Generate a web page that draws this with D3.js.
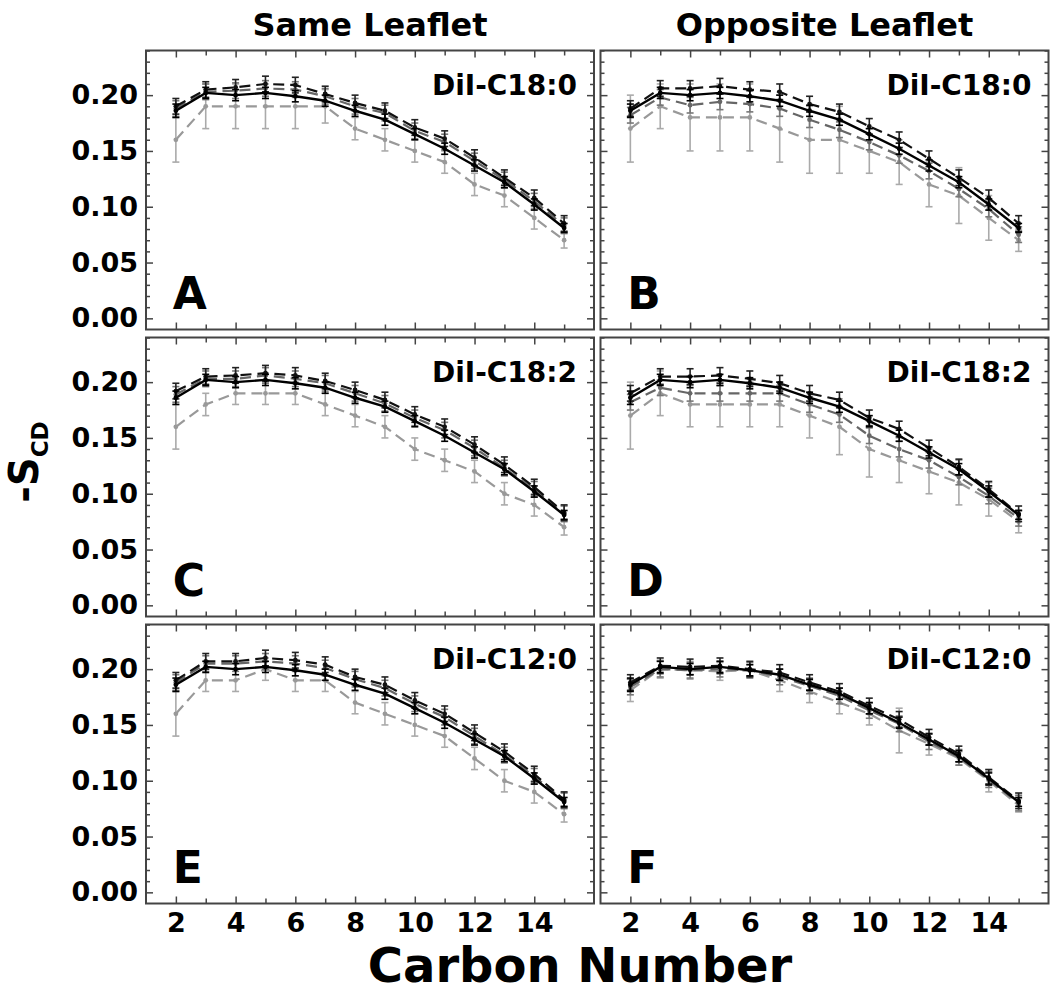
<!DOCTYPE html>
<html>
<head>
<meta charset="utf-8">
<script src="https://cdn.jsdelivr.net/npm/d3@7"></script>
<style>
  body { margin: 0; background: #fff; }
  svg text { font-family: "DejaVu Sans", sans-serif; font-weight: bold; fill: #000; }
</style>
</head>
<body>
<script>
// carbon positions along the acyl chain
var carbons = [2, 3, 4, 5, 6, 7, 8, 9, 10, 11, 12, 13, 14, 15];

// reference order parameter (solid black line, same in every panel)
var refS   = [0.186, 0.202, 0.200, 0.202, 0.199, 0.195, 0.186, 0.178, 0.165, 0.152, 0.137, 0.122, 0.102, 0.081];
var refErr = [0.006, 0.005, 0.005, 0.005, 0.005, 0.005, 0.005, 0.005, 0.005, 0.005, 0.005, 0.005, 0.005, 0.004];

// panel A  (same leaflet, DiI-C18:0)
var aDark  = [0.190, 0.205, 0.207, 0.210, 0.209, 0.201, 0.193, 0.186, 0.171, 0.161, 0.144, 0.126, 0.108, 0.085];
var aMid   = [0.188, 0.203, 0.204, 0.206, 0.205, 0.199, 0.190, 0.184, 0.168, 0.158, 0.141, 0.124, 0.105, 0.083];
var aLight = [0.16, 0.19, 0.19, 0.19, 0.19, 0.19, 0.17, 0.16, 0.15, 0.14, 0.12, 0.11, 0.09, 0.07];
var aLightErr = [0.02, 0.02, 0.02, 0.02, 0.02, 0.015, 0.01, 0.01, 0.01, 0.01, 0.01, 0.01, 0.01, 0.007];

// panel B  (opposite leaflet, DiI-C18:0)
var bDark  = [0.188, 0.206, 0.206, 0.208, 0.205, 0.203, 0.192, 0.185, 0.172, 0.160, 0.143, 0.126, 0.108, 0.085];
var bMid   = [0.182, 0.198, 0.191, 0.194, 0.192, 0.188, 0.178, 0.169, 0.158, 0.146, 0.132, 0.116, 0.098, 0.075];
var bLight = [0.17, 0.19, 0.18, 0.18, 0.18, 0.17, 0.16, 0.16, 0.15, 0.14, 0.12, 0.11, 0.09, 0.07];
var bLightErr = [0.03, 0.02, 0.03, 0.03, 0.03, 0.03, 0.03, 0.03, 0.02, 0.02, 0.02, 0.025, 0.02, 0.01];

// panel C  (same leaflet, DiI-C18:2)
var cDark  = [0.192, 0.205, 0.206, 0.208, 0.206, 0.201, 0.193, 0.184, 0.171, 0.160, 0.144, 0.126, 0.106, 0.083];
var cMid   = [0.189, 0.203, 0.203, 0.206, 0.203, 0.199, 0.190, 0.181, 0.168, 0.157, 0.141, 0.123, 0.104, 0.082];
var cLight = [0.16, 0.18, 0.19, 0.19, 0.19, 0.18, 0.17, 0.16, 0.14, 0.13, 0.12, 0.10, 0.09, 0.07];
var cLightErr = [0.02, 0.01, 0.01, 0.01, 0.01, 0.01, 0.01, 0.01, 0.01, 0.01, 0.01, 0.01, 0.01, 0.007];

// panel D  (opposite leaflet, DiI-C18:2)
var dDark  = [0.190, 0.205, 0.205, 0.206, 0.203, 0.199, 0.190, 0.184, 0.168, 0.158, 0.141, 0.124, 0.104, 0.082];
var dMid   = [0.182, 0.195, 0.190, 0.190, 0.190, 0.190, 0.180, 0.171, 0.152, 0.140, 0.130, 0.115, 0.098, 0.078];
var dLight = [0.17, 0.19, 0.18, 0.18, 0.18, 0.18, 0.17, 0.16, 0.14, 0.13, 0.12, 0.11, 0.095, 0.075];
var dLightErr = [0.03, 0.02, 0.02, 0.02, 0.02, 0.02, 0.02, 0.025, 0.025, 0.02, 0.02, 0.02, 0.015, 0.01];

// panel E  (same leaflet, DiI-C12:0)
var eDark  = [0.190, 0.207, 0.207, 0.210, 0.208, 0.204, 0.193, 0.186, 0.172, 0.160, 0.143, 0.126, 0.106, 0.083];
var eMid   = [0.188, 0.205, 0.205, 0.207, 0.205, 0.201, 0.191, 0.183, 0.169, 0.157, 0.140, 0.123, 0.104, 0.082];
var eLight = [0.16, 0.19, 0.19, 0.20, 0.19, 0.19, 0.17, 0.16, 0.15, 0.14, 0.12, 0.10, 0.09, 0.07];
var eLightErr = [0.02, 0.01, 0.01, 0.01, 0.01, 0.01, 0.01, 0.01, 0.01, 0.01, 0.01, 0.01, 0.01, 0.007];

// panel F  (opposite leaflet, DiI-C12:0)
var fDark  = [0.188, 0.203, 0.202, 0.203, 0.200, 0.197, 0.188, 0.180, 0.167, 0.155, 0.139, 0.124, 0.103, 0.082];
var fMid   = [0.184, 0.200, 0.199, 0.200, 0.199, 0.193, 0.185, 0.176, 0.163, 0.151, 0.135, 0.121, 0.101, 0.080];
var fLight = [0.181, 0.200, 0.199, 0.198, 0.199, 0.190, 0.180, 0.170, 0.160, 0.145, 0.133, 0.120, 0.100, 0.078];
var fLightErr = [0.01, 0.008, 0.008, 0.008, 0.005, 0.01, 0.01, 0.01, 0.01, 0.02, 0.01, 0.006, 0.01, 0.006];

var darkErr = 0.007, midErr = 0.007;

var columnTitles = ["Same Leaflet", "Opposite Leaflet"];
var probeNames = ["DiI-C18:0", "DiI-C18:2", "DiI-C12:0"];
var panelLetters = ["A", "B", "C", "D", "E", "F"];
var yTickLabels = [0.00, 0.05, 0.10, 0.15, 0.20];
var xTickLabels = [2, 4, 6, 8, 10, 12, 14];

// panel table, row by row
var panels = [
  { dark: aDark, mid: aMid, light: aLight, lightErr: aLightErr },
  { dark: bDark, mid: bMid, light: bLight, lightErr: bLightErr },
  { dark: cDark, mid: cMid, light: cLight, lightErr: cLightErr },
  { dark: dDark, mid: dMid, light: dLight, lightErr: dLightErr },
  { dark: eDark, mid: eMid, light: eLight, lightErr: eLightErr },
  { dark: fDark, mid: fMid, light: fLight, lightErr: fLightErr }
];

var W = 1050, H = 992;
var colX = [146, 600.5], rowY = [50.5, 337.5, 624.5];
var pw = 448, ph = 279;

var svg = d3.select("body").append("svg")
    .attr("width", W)
    .attr("height", H);

var x = d3.scaleLinear().domain([1, 16]).range([0, pw]);
var y = d3.scaleLinear().domain([-0.01, 0.24]).range([ph, 0]);

var majorY = yTickLabels;
var minorY = d3.range(0, 25).map(function(i){ return i / 100; })
    .filter(function(v){ return Math.round(v * 100) % 5 !== 0; });
var majorX = xTickLabels;
var minorX = [3, 5, 7, 9, 11, 13, 15];

var line = d3.line()
    .x(function(d){ return x(d.c); })
    .y(function(d){ return y(d.v); });

function series(vals, errs) {
  return carbons.map(function(c, i){
    return { c: c, v: vals[i], e: Array.isArray(errs) ? errs[i] : errs };
  });
}

function drawSeries(g, pts, color, barColor, dash, width) {
  g.append("path")
      .datum(pts)
      .attr("d", line)
      .attr("fill", "none")
      .attr("stroke", color)
      .attr("stroke-width", width)
      .attr("stroke-dasharray", dash);

  var bars = g.append("g").selectAll("g")
      .data(pts)
      .enter().append("g")
      .attr("stroke", barColor)
      .attr("stroke-width", 1.6);
  bars.append("line")
      .attr("x1", function(d){ return x(d.c); })
      .attr("x2", function(d){ return x(d.c); })
      .attr("y1", function(d){ return y(d.v - d.e); })
      .attr("y2", function(d){ return y(d.v + d.e); });
  bars.append("line")
      .attr("x1", function(d){ return x(d.c) - 3.5; })
      .attr("x2", function(d){ return x(d.c) + 3.5; })
      .attr("y1", function(d){ return y(d.v + d.e); })
      .attr("y2", function(d){ return y(d.v + d.e); });
  bars.append("line")
      .attr("x1", function(d){ return x(d.c) - 3.5; })
      .attr("x2", function(d){ return x(d.c) + 3.5; })
      .attr("y1", function(d){ return y(d.v - d.e); })
      .attr("y2", function(d){ return y(d.v - d.e); });

  g.append("g").selectAll("circle")
      .data(pts)
      .enter().append("circle")
      .attr("cx", function(d){ return x(d.c); })
      .attr("cy", function(d){ return y(d.v); })
      .attr("r", 2.4)
      .attr("fill", color);
}

panels.forEach(function(p, i){
  var col = i % 2, row = Math.floor(i / 2);
  var g = svg.append("g")
      .attr("transform", "translate(" + colX[col] + "," + rowY[row] + ")");

  // inward ticks on all four sides
  var tickColor = "#444";
  [[d3.axisLeft, 0], [d3.axisRight, pw]].forEach(function(a){
    g.append("g").attr("transform", "translate(" + a[1] + ",0)")
        .call(a[0](y).tickValues(majorY).tickSize(-7).tickSizeOuter(0).tickFormat(""));
    g.append("g").attr("transform", "translate(" + a[1] + ",0)")
        .call(a[0](y).tickValues(minorY).tickSize(-4).tickSizeOuter(0).tickFormat(""));
  });
  [[d3.axisTop, 0], [d3.axisBottom, ph]].forEach(function(a){
    g.append("g").attr("transform", "translate(0," + a[1] + ")")
        .call(a[0](x).tickValues(majorX).tickSize(-7).tickSizeOuter(0).tickFormat(""));
    g.append("g").attr("transform", "translate(0," + a[1] + ")")
        .call(a[0](x).tickValues(minorX).tickSize(-5).tickSizeOuter(0).tickFormat(""));
  });
  g.selectAll(".domain").remove();
  g.selectAll(".tick line").attr("stroke", tickColor).attr("stroke-width", 1.5);

  // tick labels on the outer edges only
  if (col === 0) {
    var yl = g.append("g")
        .call(d3.axisLeft(y).tickValues(yTickLabels).tickSize(0).tickPadding(8)
          .tickFormat(d3.format(".2f")));
    yl.select(".domain").remove();
    yl.selectAll("text").style("font-size", "27px").attr("fill", "#000");
  }
  if (row === 2) {
    var xl = g.append("g").attr("transform", "translate(0," + ph + ")")
        .call(d3.axisBottom(x).tickValues(xTickLabels).tickSize(0).tickPadding(9));
    xl.select(".domain").remove();
    xl.selectAll("text").style("font-size", "27px").attr("fill", "#000");
  }

  // data, light to dark so the reference line sits on top
  drawSeries(g, series(p.light, p.lightErr), "#999", "#aaa", "11,6", 2.2);
  drawSeries(g, series(p.mid, midErr), "#666", "#777", "11,6", 2.2);
  drawSeries(g, series(p.dark, darkErr), "#111", "#222", "11,6", 2.2);
  drawSeries(g, series(refS, refErr), "#000", "#000", null, 2.4);

  // frame
  g.append("rect")
      .attr("width", pw)
      .attr("height", ph)
      .attr("fill", "none")
      .attr("stroke", "#444")
      .attr("stroke-width", 2);

  g.append("text")
      .attr("x", pw - 17)
      .attr("y", 44)
      .attr("text-anchor", "end")
      .style("font-size", "28px")
      .text(probeNames[row]);

  g.append("text")
      .attr("x", x(2) - 3)
      .attr("y", ph - 21)
      .style("font-size", "44px")
      .text(panelLetters[i]);
});

// column titles
columnTitles.forEach(function(t, i){
  svg.append("text")
      .attr("x", colX[i] + pw / 2)
      .attr("y", 36)
      .attr("text-anchor", "middle")
      .style("font-size", "32px")
      .text(t);
});

// axis titles
svg.append("text")
    .attr("x", 580)
    .attr("y", 982)
    .attr("text-anchor", "middle")
    .style("font-size", "48px")
    .text("Carbon Number");

var yt = svg.append("text")
    .attr("transform", "translate(38,462) rotate(-90)")
    .attr("text-anchor", "middle")
    .style("font-size", "40px");
yt.append("tspan").text("-S");
yt.append("tspan").attr("dy", 10).style("font-size", "23px").text("CD");
</script>
</body>
</html>
